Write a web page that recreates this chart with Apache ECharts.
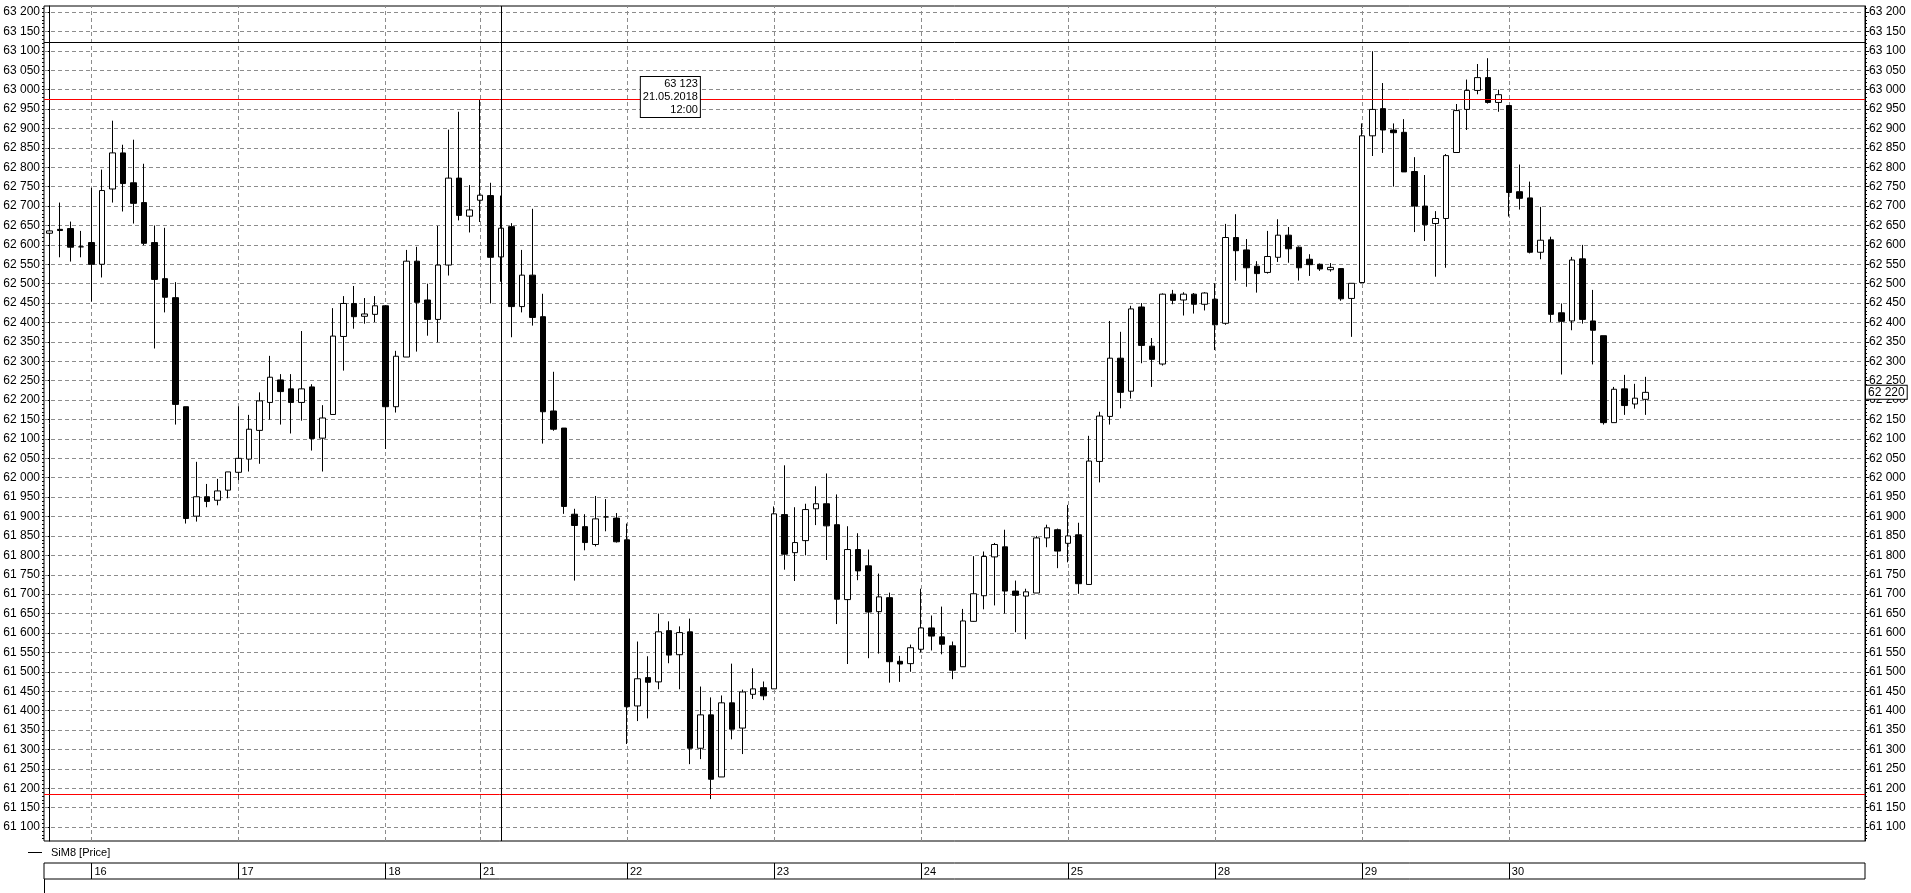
<!DOCTYPE html>
<html><head><meta charset="utf-8">
<script src="https://cdn.jsdelivr.net/npm/echarts@6/dist/echarts.min.js"></script>
<style>html,body{margin:0;padding:0;background:#fff}#c{width:1911px;height:893px}</style>
</head><body><div id="c"></div>
<script>
const seriesName = 'SiM8 [Price]';
const opens = [62630,62640,62642,62595,62606,62550,62744,62837,62760,62709,62606,62513,62464,62183,61901,61951,61942,61968,62014,62048,
62122,62194,62252,62229,62194,62234,62102,62163,62364,62449,62416,62421,62443,62183,62311,62558,62458,62408,62548,62772,
62674,62715,62727,62569,62647,62441,62522,62415,62172,62128,61906,61874,61828,61899,61896,61840,61412,61485,61474,61606,
61544,61603,61303,61389,61229,61420,61355,61442,61459,61456,61905,61807,61838,61920,61933,61879,61686,61815,61773,61655,
61691,61527,61521,61558,61613,61590,61567,61513,61630,61696,61796,61822,61708,61695,61703,61845,61866,61831,61853,61725,
62042,62158,62308,62223,62440,62339,62293,62473,62458,62473,62447,62460,62398,62619,62587,62545,62529,62568,62625,62594,
62563,62550,62536,62539,62462,62503,62881,62951,62896,62890,62789,62700,62655,62668,62838,62949,62998,63031,62967,62959,
62737,62721,62581,62613,62425,62404,62564,62404,62366,62142,62229,62190,62202];
const closes = [62636,62637,62594,62595,62550,62740,62837,62758,62707,62604,62511,62465,62189,61895,61951,61939,61966,62015,62050,62125,
62198,62259,62222,62194,62229,62101,62154,62365,62449,62415,62422,62443,62183,62313,62558,62452,62408,62548,62772,62676,
62690,62728,62568,62643,62441,62522,62413,62170,62125,61926,61877,61833,61894,61899,61835,61410,61482,61473,61603,61543,
61601,61303,61389,61223,61420,61352,61448,61456,61438,61907,61803,61833,61918,61933,61876,61687,61815,61760,61654,61693,
61526,61520,61562,61613,61592,61571,61504,61631,61701,61797,61828,61708,61697,61706,61845,61871,61811,61850,61727,62043,
62159,62308,62220,62435,62341,62305,62473,62457,62473,62447,62476,62394,62619,62585,62541,62526,62570,62625,62590,62541,
62549,62538,62542,62461,62501,62881,62949,62896,62889,62788,62700,62652,62668,62830,62946,62998,63031,62967,62987,62735,
62720,62581,62612,62421,62403,62561,62408,62380,62142,62228,62186,62205,62220];
const lows = [62586,62568,62557,62568,62454,62516,62709,62686,62655,62599,62333,62426,62137,61882,61887,61924,61929,61947,61994,62016,
62036,62150,62137,62114,62147,62070,62016,62163,62276,62384,62397,62401,62074,62168,62311,62325,62366,62349,62521,62663,
62632,62659,62449,62505,62362,62426,62392,62088,62121,61907,61735,61813,61823,61862,61833,61314,61373,61380,61455,61522,
61455,61262,61275,61172,61229,61326,61288,61430,61427,61456,61763,61734,61800,61878,61788,61623,61520,61736,61535,61547,
61472,61474,61500,61550,61555,61545,61481,61513,61629,61661,61671,61650,61602,61584,61703,61821,61767,61782,61701,61725,
61988,62137,62179,62204,62295,62234,62289,62447,62418,62423,62431,62329,62394,62508,62492,62477,62526,62556,62554,62508,
62520,62533,62531,62456,62363,62503,62829,62837,62750,62788,62633,62610,62518,62541,62838,62896,62988,62964,62943,62673,
62691,62578,62563,62401,62266,62380,62397,62292,62137,62142,62162,62178,62162];
const highs = [62760,62709,62660,62636,62747,62794,62920,62858,62871,62809,62650,62644,62504,62183,62041,61984,61997,62015,62184,62162,
62220,62314,62267,62267,62378,62241,62187,62437,62468,62494,62463,62468,62445,62327,62587,62595,62500,62649,62897,62943,
62754,62975,62760,62727,62656,62587,62693,62474,62273,62128,61920,61906,61953,61945,61909,61882,61578,61540,61650,61630,
61617,61637,61462,61434,61439,61521,61454,61509,61475,61926,62032,61924,61933,61978,62011,61957,61875,61857,61815,61753,
61704,61541,61570,61714,61645,61668,61578,61662,61798,61810,61832,61866,61735,61714,61850,61879,61869,61930,61884,62108,
62170,62404,62376,62443,62450,62360,62475,62484,62478,62476,62478,62501,62654,62679,62615,62558,62636,62666,62646,62596,
62576,62552,62553,62539,62501,62913,63099,63017,62913,62924,62826,62780,62687,62834,62963,63026,63066,63081,63000,62959,
62807,62763,62698,62621,62449,62569,62600,62484,62366,62234,62265,62242,62260];
const dayStarts = [4,18,32,41,55,69,83,97,111,125,139];
const dayLabels = ['16','17','18','21','22','23','24','25','28','29','30'];
const priceTicks = [61100,61150,61200,61250,61300,61350,61400,61450,61500,61550,61600,61650,61700,61750,61800,61850,61900,61950,
62000,62050,62100,62150,62200,62250,62300,62350,62400,62450,62500,62550,62600,62650,62700,62750,62800,62850,62900,62950,
63000,63050,63100,63150,63200];
const levelLines = [62975, 61185];
const crossIndex = 43, crossPrice = 63123, crossDate = '21.05.2018', crossTime = '12:00';
const lastPrice = 62220;

const Y_MIN = 61064, Y_MAX = 63215.5, X_MIN = -0.514, X_MAX = 172.92;
const minorTicks = [];
for (let v = 61070; v <= 63210; v += 10) minorTicks.push(v);
const fmt = v => String(v).replace(/\B(?=(\d{3})+(?!\d))/g, ' ');
const FONT = 'Liberation Sans';
const candles = opens.map((o, i) => [i, o, closes[i], lows[i], highs[i]]);

const yBase = (pos) => ({
  type: 'value', gridIndex: 0, position: pos, min: Y_MIN, max: Y_MAX,
  axisLine: {show: true, lineStyle: {color: '#000', width: 1}},
  axisTick: {show: true, customValues: priceTicks, length: 4, lineStyle: {color: '#000'}},
  axisLabel: {show: true, customValues: priceTicks, formatter: v => fmt(v), color: '#000',
    fontSize: 12, fontFamily: FONT, margin: 4},
  splitLine: {show: false}
});
const yMinor = (pos) => ({
  type: 'value', gridIndex: 0, position: pos, min: Y_MIN, max: Y_MAX,
  axisLine: {show: false}, axisLabel: {show: false}, splitLine: {show: false},
  axisTick: {show: true, customValues: minorTicks, length: 2, lineStyle: {color: '#000'}}
});

const chart = echarts.init(document.getElementById('c'), null, {renderer: 'canvas'});
chart.setOption({
  animation: false,
  backgroundColor: '#fff',
  textStyle: {fontFamily: FONT},
  grid: [
    {left: 44, right: 46, top: 6, height: 835, show: true, borderColor: '#000', borderWidth: 1, backgroundColor: 'transparent'},
    {left: 44, right: 46, top: 863, height: 16, show: true, borderColor: '#000', borderWidth: 1, backgroundColor: 'transparent'}
  ],
  xAxis: [
    {type: 'value', gridIndex: 0, min: X_MIN, max: X_MAX, axisLine: {show: false}, axisTick: {show: false},
     axisLabel: {show: false}, splitLine: {show: false}},
    {type: 'value', gridIndex: 1, min: X_MIN, max: X_MAX, position: 'bottom',
     axisLine: {show: false}, splitLine: {show: false},
     axisTick: {show: true, customValues: dayStarts, inside: true, length: 16, lineStyle: {color: '#000'}},
     axisLabel: {show: true, customValues: dayStarts, inside: true, margin: 2, align: 'left', verticalAlign: 'bottom',
       padding: [0, 0, 0, 3], color: '#000', fontSize: 11, fontFamily: FONT,
       formatter: v => dayLabels[dayStarts.indexOf(Math.round(v))] || ''}}
  ],
  yAxis: [
    yBase('left'), yBase('right'), yMinor('left'), yMinor('right'),
    {type: 'value', gridIndex: 1, min: 0, max: 1, show: false}
  ],
  legend: {
    data: [{name: seriesName, icon: 'rect', itemStyle: {color: '#000', borderWidth: 0}}],
    left: 23, top: 842, itemWidth: 14, itemHeight: 1, selectedMode: false,
    textStyle: {color: '#000', fontSize: 11, fontFamily: FONT, padding: [0, 0, 0, 4]}
  },
  series: [
    {
      type: 'line', name: 'grid', xAxisIndex: 0, yAxisIndex: 0, data: [], silent: true, clip: false,
      markLine: {
        silent: true, symbol: 'none', z: 1, animation: false,
        label: {show: false},
        lineStyle: {color: '#8c8c8c', type: [4, 3], width: 1},
        data: [...priceTicks.map(v => ({yAxis: v})), ...dayStarts.map(v => ({xAxis: v}))]
      }
    },
    {
      type: 'candlestick', name: seriesName, xAxisIndex: 0, yAxisIndex: 0, z: 3,
      barWidth: 6,
      itemStyle: {color: '#fff', color0: '#000', borderColor: '#000', borderColor0: '#000',
        borderColorDoji: '#000', borderWidth: 1},
      data: candles
    },
    {
      type: 'line', name: 'levels', xAxisIndex: 0, yAxisIndex: 0, data: [], silent: true, clip: false, z: 5,
      markLine: {
        silent: true, symbol: 'none', z: 5, animation: false, label: {show: false},
        data: [
          ...levelLines.map(v => ({yAxis: v, lineStyle: {color: '#ff0000', type: 'solid', width: 1}})),
          {yAxis: crossPrice, lineStyle: {color: '#000', type: 'solid', width: 1}},
          {xAxis: crossIndex, lineStyle: {color: '#000', type: 'solid', width: 1}}
        ]
      },
      markPoint: {
        silent: true, animation: false, symbol: 'rect', symbolSize: 0, z: 6,
        data: [
          {coord: [crossIndex, crossPrice], label: {show: true, position: [199, 35], align: 'right', verticalAlign: 'top',
            formatter: fmt(crossPrice) + '\n' + crossDate + '\n' + crossTime,
            color: '#000', fontSize: 11, fontFamily: FONT, lineHeight: 13,
            backgroundColor: '#fff', borderColor: '#000', borderWidth: 1, padding: [1, 2, 0, 2]}},
          {coord: [X_MAX, lastPrice], label: {show: true, position: 'right', distance: 1,
            formatter: fmt(lastPrice), color: '#000', fontSize: 12, fontFamily: FONT,
            backgroundColor: '#fff', borderColor: '#000', borderWidth: 1, padding: [1, 2, 0, 2]}}
        ]
      }
    }
  ],
  graphic: [
    {type: 'line', shape: {x1: 44.5, y1: 879, x2: 44.5, y2: 893}, style: {stroke: '#000', lineWidth: 1}}
  ]
});
</script></body></html>
